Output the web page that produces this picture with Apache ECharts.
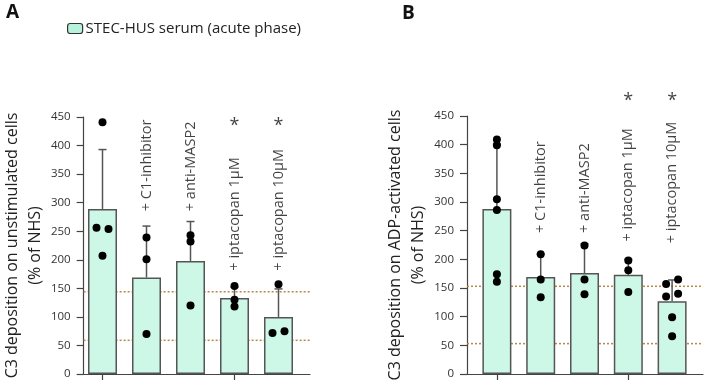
<!DOCTYPE html>
<html>
<head>
<meta charset="utf-8">
<script src="https://cdn.jsdelivr.net/npm/echarts@6/dist/echarts.min.js"></script>
<style>
  html, body { margin: 0; padding: 0; background: #fff; }
  #chart { width: 705px; height: 386px; }
</style>
</head>
<body>
<div id="chart"></div>
<script>
// categories (first bar = serum alone, no label)
const categories = ['', '+ C1-inhibitor', '+ anti-MASP2', '+ iptacopan 1μM', '+ iptacopan 10μM']
const yTicks = { min: 0, max: 450, interval: 50 }

// panel A: unstimulated cells
const meanA = [289, 169, 198, 133, 100]
const sdA = [104, 90, 69, 19, 49]
const dotsA = [[441, 256, 254, 207], [239, 201, 70], [243, 232, 120], [154, 130, 118], [157, 72, 75]]
const sideA = [[0, -1, 1, 0], [0, 0, 0], [0, 0, 0], [0, 0, 0], [0, -1, 1]]
const refA = [144, 59]
const sigA = [false, false, false, true, true]

// panel B: ADP-activated cells
const meanB = [288, 169, 176, 173, 127]
const sdB = [113, 40, 51, 27, 37]
const dotsB = [[409, 399, 305, 286, 174, 161], [209, 165, 134], [224, 165, 139], [198, 181, 143], [157, 165, 135, 140, 99, 66]]
const sideB = [[0, 0, 0, 0, 0, 0], [0, 0, 0], [0, 0, 0], [0, 0, 0], [-1, 1, -1, 1, 0, 0]]
const refB = [153, 53]
const sigB = [false, false, false, true, true]

// where rotated labels / asterisks start (in axis units)
const labelAtA = [null, 285, 285, 181, 181]
const labelAtB = [null, 246, 246, 231, 228]
const starAtA = 442
const starAtB = 483

const FONT = '"Open Sans", "Noto Sans", sans-serif'
const BAR_FILL = '#cdf7e6'
const EDGE = '#555'
const REF_COLOR = '#b5894a'

const chart = echarts.init(document.getElementById('chart'), null, { renderer: 'canvas' })

function panel(idx, frame, bars, yName, mean, sd, dots, side, ref, sig, labelAt, starAt) {
  const fg = idx * 2
  const bg = idx * 2 + 1
  const grid = [
    { left: frame.left, top: frame.top, width: frame.width, height: frame.height },
    { left: bars.left, top: frame.top, width: bars.width, height: frame.height }
  ]
  const xAxis = [
    {
      gridIndex: fg, type: 'value', min: 0, max: 1,
      axisLine: { show: true, lineStyle: { color: '#444', width: 1.2 } },
      axisTick: { show: false }, axisLabel: { show: false }, splitLine: { show: false }
    },
    {
      gridIndex: bg, type: 'category', data: categories,
      axisLine: { show: false },
      axisTick: { show: true, alignWithLabel: true, length: 6, lineStyle: { color: '#444', width: 1.2 } },
      axisLabel: { show: false }
    }
  ]
  const yAxis = [
    {
      gridIndex: fg, type: 'value', min: yTicks.min, max: yTicks.max, interval: yTicks.interval,
      name: yName, nameLocation: 'middle', nameRotate: 90, nameGap: 34,
      nameTextStyle: { fontFamily: FONT, fontSize: 16, color: '#222', lineHeight: 23 },
      axisLine: { show: true, lineStyle: { color: '#444', width: 1.2 } },
      axisTick: { show: true, length: 7, lineStyle: { color: '#444', width: 1.2 } },
      axisLabel: { fontFamily: FONT, fontSize: 11.5, color: '#333', margin: 13 },
      splitLine: { show: false }
    },
    {
      gridIndex: bg, type: 'value', min: yTicks.min, max: yTicks.max, interval: yTicks.interval,
      show: false, splitLine: { show: false }
    }
  ]
  const xi = idx * 2
  const series = []
  ref.forEach(function (v) {
    series.push({
      type: 'line', xAxisIndex: xi, yAxisIndex: xi, silent: true, symbol: 'none', z: 1,
      data: [[0, v], [1, v]],
      lineStyle: { color: REF_COLOR, width: 1.5, type: [2, 2] }
    })
  })
  series.push({
    name: 'STEC-HUS serum (acute phase)',
    type: 'bar', xAxisIndex: xi + 1, yAxisIndex: xi + 1, barWidth: 29, z: 2,
    data: mean,
    itemStyle: { color: BAR_FILL, borderColor: EDGE, borderWidth: 1.5 }
  })
  series.push({
    type: 'custom', xAxisIndex: xi + 1, yAxisIndex: xi + 1, z: 3, silent: true,
    data: mean.map(function (m, i) { return [i, m, m + sd[i]] }),
    renderItem: function (params, api) {
      const p0 = api.coord([api.value(0), api.value(1)])
      const p1 = api.coord([api.value(0), api.value(2)])
      const st = { stroke: EDGE, lineWidth: 1.5 }
      return {
        type: 'group',
        children: [
          { type: 'line', shape: { x1: p0[0], y1: p0[1], x2: p1[0], y2: p1[1] }, style: st },
          { type: 'line', shape: { x1: p1[0] - 4, y1: p1[1], x2: p1[0] + 4, y2: p1[1] }, style: st }
        ]
      }
    }
  })
  const pts = []
  dots.forEach(function (arr, i) {
    arr.forEach(function (v, j) {
      pts.push({ value: [i, v], symbolOffset: [side[i][j] * 6, 0] })
    })
  })
  series.push({
    type: 'scatter', xAxisIndex: xi + 1, yAxisIndex: xi + 1, z: 4, silent: true,
    symbolSize: 8, itemStyle: { color: '#000', opacity: 1 }, data: pts
  })
  const labs = []
  labelAt.forEach(function (v, i) {
    if (v !== null) labs.push({ value: [i, v], label: { formatter: categories[i] } })
  })
  series.push({
    type: 'scatter', xAxisIndex: xi + 1, yAxisIndex: xi + 1, z: 5, silent: true,
    symbolSize: 0, clip: false, data: labs,
    label: {
      show: true, position: 'inside', rotate: 90, align: 'left', verticalAlign: 'middle',
      fontFamily: FONT, fontSize: 14.5, color: '#111'
    }
  })
  const stars = []
  sig.forEach(function (s, i) { if (s) stars.push([i, starAt]) })
  series.push({
    type: 'scatter', xAxisIndex: xi + 1, yAxisIndex: xi + 1, z: 5, silent: true,
    symbolSize: 0, clip: false, data: stars,
    label: {
      show: true, position: 'inside', formatter: '*', offset: [0, 4],
      fontFamily: FONT, fontSize: 18, color: '#111'
    }
  })
  return { grid: grid, xAxis: xAxis, yAxis: yAxis, series: series }
}

const pA = panel(0, { left: 75, top: 117, width: 235, height: 257 }, { left: 80.5, width: 220 },
  'C3 deposition on unstimulated cells\n(% of NHS)', meanA, sdA, dotsA, sideA, refA, sigA, labelAtA, starAtA)
const pB = panel(1, { left: 467, top: 116, width: 236, height: 258 }, { left: 475, width: 219 },
  'C3 deposition on ADP-activated cells\n(% of NHS)', meanB, sdB, dotsB, sideB, refB, sigB, labelAtB, starAtB)

chart.setOption({
  animation: false,
  textStyle: { fontFamily: FONT },
  title: [
    { text: 'A', left: 1, top: -2, textStyle: { fontFamily: FONT, fontSize: 19, fontWeight: 'bold', color: '#111' } },
    { text: 'B', left: 397, top: -1, textStyle: { fontFamily: FONT, fontSize: 19, fontWeight: 'bold', color: '#111' } }
  ],
  legend: {
    left: 62, top: 16, itemWidth: 15, itemHeight: 10, itemGap: 4,
    data: [{ name: 'STEC-HUS serum (acute phase)', itemStyle: { color: '#b8f2dd', borderColor: '#333', borderWidth: 1.2 } }],
    textStyle: { fontFamily: FONT, fontSize: 15, color: '#222', padding: [0, 0, 0, -2] },
    selectedMode: false
  },
  grid: pA.grid.concat(pB.grid),
  xAxis: pA.xAxis.concat(pB.xAxis),
  yAxis: pA.yAxis.concat(pB.yAxis),
  series: pA.series.concat(pB.series)
})
</script>
</body>
</html>
